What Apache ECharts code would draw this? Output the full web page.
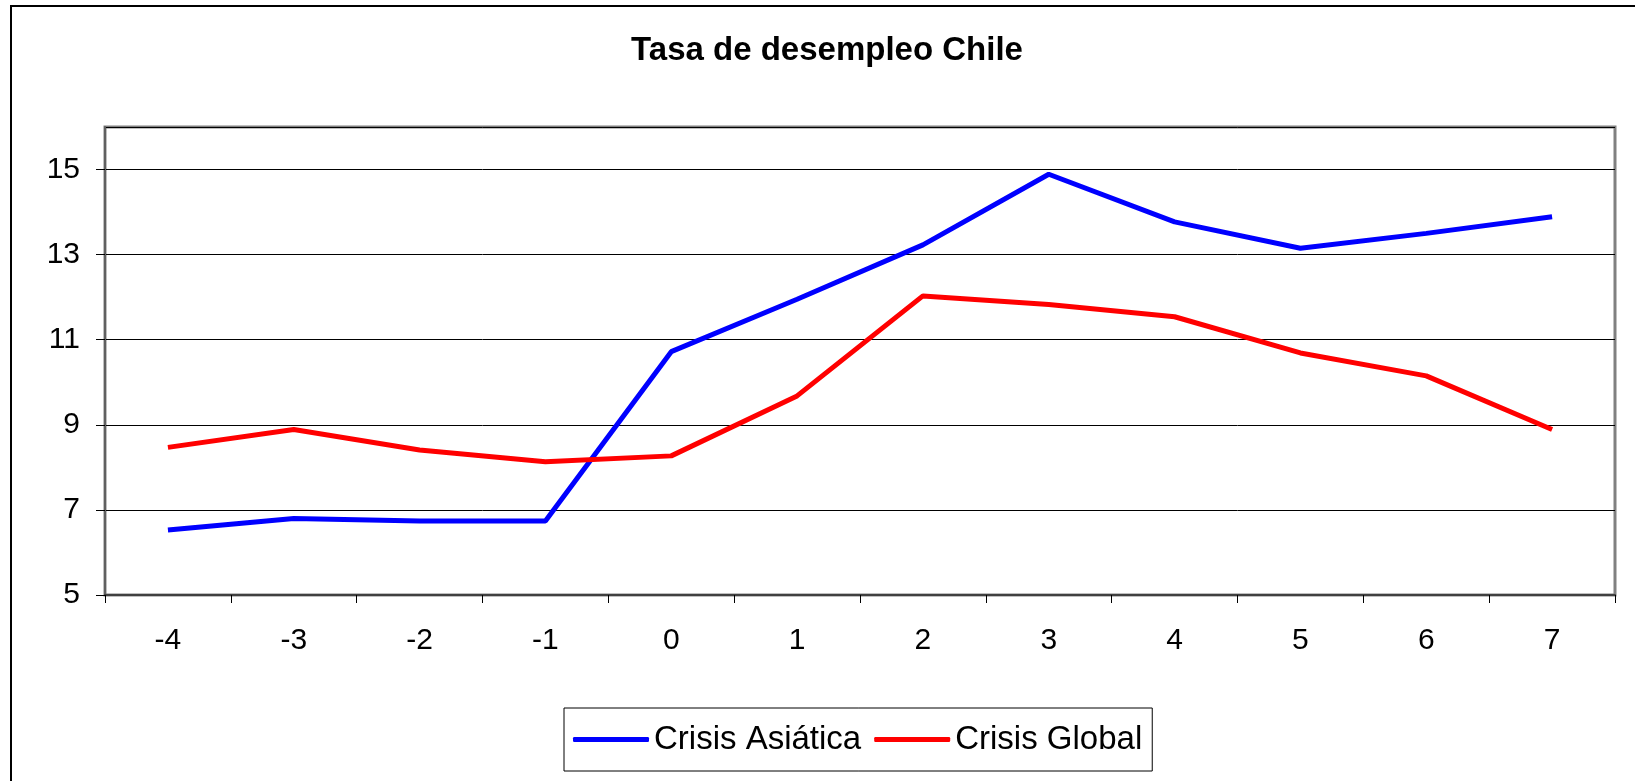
<!DOCTYPE html>
<html>
<head>
<meta charset="utf-8">
<script src="https://cdn.jsdelivr.net/npm/echarts@6/dist/echarts.min.js"></script>
<style>
html,body{margin:0;padding:0;background:#fff;}
#chart{width:1635px;height:781px;}
</style>
</head>
<body>
<div id="chart"></div>
<script>
const titleText = 'Tasa de desempleo Chile';
const categories = ['-4','-3','-2','-1','0','1','2','3','4','5','6','7'];
const crisisAsiatica = [6.53, 6.80, 6.74, 6.74, 10.72, 11.95, 13.23, 14.89, 13.77, 13.15, 13.50, 13.89];
const crisisGlobal = [8.47, 8.89, 8.41, 8.13, 8.27, 9.68, 12.03, 11.83, 11.54, 10.69, 10.15, 8.89];
const seriesNames = ['Crisis Asiática', 'Crisis Global'];
const yMin = 5, yMax = 16, yInterval = 2;

const font = "'Liberation Sans', Arial, sans-serif";
const chart = echarts.init(document.getElementById('chart'), null, {renderer: 'canvas'});
chart.setOption({
  animation: false,
  backgroundColor: '#fff',
  graphic: [{
    type: 'rect', z: -1,
    shape: {x: 11, y: 6, width: 1700, height: 900},
    style: {fill: 'none', stroke: '#000', lineWidth: 2}
  }],
  title: {
    text: titleText,
    left: 827, top: 34, textAlign: 'center', padding: 0,
    textStyle: {fontFamily: font, fontSize: 33, fontWeight: 'bold', color: '#000'}
  },
  legend: {
    left: 564, top: 708,
    padding: [15, 10, 15, 9],
    borderColor: '#000', borderWidth: 1,
    itemGap: 13, itemWidth: 76, itemHeight: 5,
    icon: 'roundRect',
    textStyle: {fontFamily: font, fontSize: 33, color: '#000'},
    data: seriesNames
  },
  grid: {
    left: 105, right: 20, top: 127, bottom: 186,
    show: true, borderColor: '#808080', borderWidth: 3, backgroundColor: 'transparent'
  },
  xAxis: {
    type: 'category',
    data: categories,
    boundaryGap: true,
    axisLine: {lineStyle: {color: '#404040', width: 2}},
    axisTick: {show: true, length: 8, inside: false, alignWithLabel: false, lineStyle: {color: '#000', width: 1}},
    axisLabel: {fontFamily: font, fontSize: 30, color: '#000', margin: 31, interval: 0},
    splitLine: {show: false}
  },
  yAxis: {
    type: 'value',
    min: yMin, max: yMax, interval: yInterval,
    axisLine: {show: true, lineStyle: {color: '#606060', width: 2}},
    axisTick: {show: true, length: 9, lineStyle: {color: '#000', width: 1}},
    axisLabel: {
      fontFamily: font, fontSize: 30, color: '#000', margin: 25,
      showMaxLabel: false,
      formatter: v => (v === yMax ? '' : String(v))
    },
    splitLine: {show: true, lineStyle: {color: '#000', width: 1}}
  },
  series: [{
    name: seriesNames[0], type: 'line', data: crisisAsiatica,
    symbol: 'none', color: '#0000FF',
    lineStyle: {color: '#0000FF', width: 5}
  }, {
    name: seriesNames[1], type: 'line', data: crisisGlobal,
    symbol: 'none', color: '#FF0000',
    lineStyle: {color: '#FF0000', width: 5}
  }]
});
</script>
</body>
</html>
